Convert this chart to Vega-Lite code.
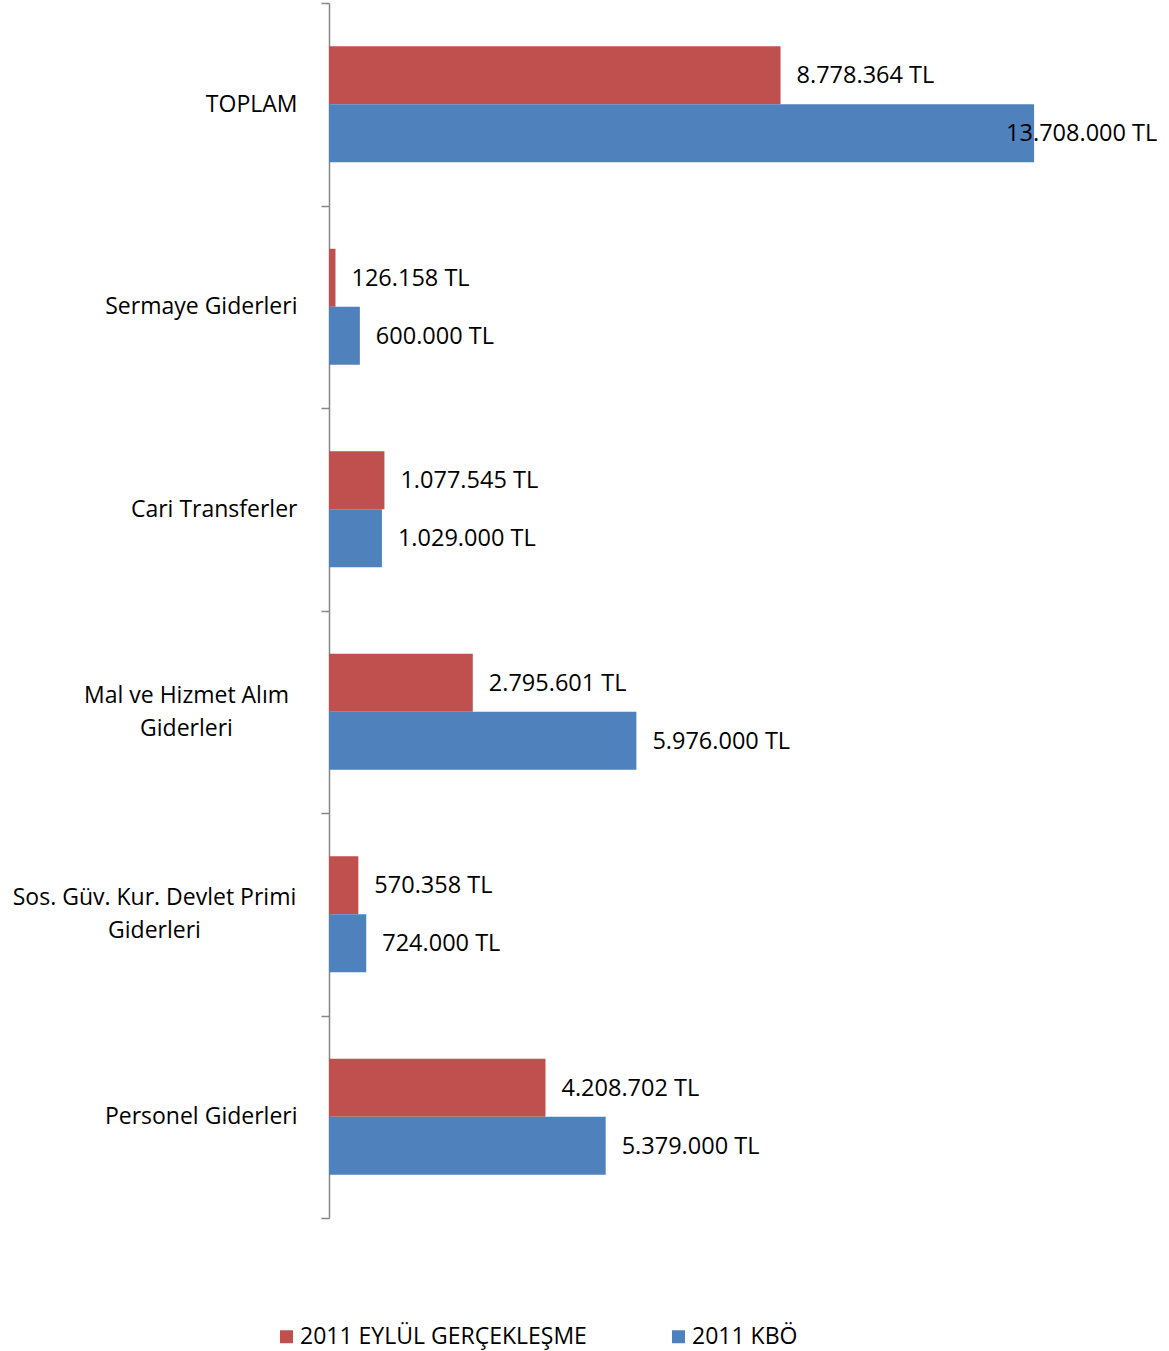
{
  "$schema": "https://vega.github.io/schema/vega-lite/v6.json",
  "width": 823,
  "height": 1215,
  "autosize": {"type": "none"},
  "padding": {"left": 329, "top": 3, "right": 17, "bottom": 133},
  "background": "white",
  "config": {
    "view": {"stroke": null},
    "font": "Open Sans",
    "locale": {
      "number": {"decimal": ",", "thousands": ".", "grouping": [3], "currency": ["", " TL"]}
    }
  },
  "data": {
    "values": [
      {"kategori": "TOPLAM", "seri": "2011 EYLÜL GERÇEKLEŞME", "tutar": 8778364},
      {"kategori": "TOPLAM", "seri": "2011 KBÖ", "tutar": 13708000},
      {"kategori": "Sermaye Giderleri", "seri": "2011 EYLÜL GERÇEKLEŞME", "tutar": 126158},
      {"kategori": "Sermaye Giderleri", "seri": "2011 KBÖ", "tutar": 600000},
      {"kategori": "Cari Transferler", "seri": "2011 EYLÜL GERÇEKLEŞME", "tutar": 1077545},
      {"kategori": "Cari Transferler", "seri": "2011 KBÖ", "tutar": 1029000},
      {"kategori": "Mal ve Hizmet Alım Giderleri", "seri": "2011 EYLÜL GERÇEKLEŞME", "tutar": 2795601},
      {"kategori": "Mal ve Hizmet Alım Giderleri", "seri": "2011 KBÖ", "tutar": 5976000},
      {"kategori": "Sos. Güv. Kur. Devlet Primi Giderleri", "seri": "2011 EYLÜL GERÇEKLEŞME", "tutar": 570358},
      {"kategori": "Sos. Güv. Kur. Devlet Primi Giderleri", "seri": "2011 KBÖ", "tutar": 724000},
      {"kategori": "Personel Giderleri", "seri": "2011 EYLÜL GERÇEKLEŞME", "tutar": 4208702},
      {"kategori": "Personel Giderleri", "seri": "2011 KBÖ", "tutar": 5379000}
    ]
  },
  "encoding": {
    "y": {
      "field": "kategori",
      "type": "nominal",
      "sort": ["TOPLAM", "Sermaye Giderleri", "Cari Transferler", "Mal ve Hizmet Alım Giderleri", "Sos. Güv. Kur. Devlet Primi Giderleri", "Personel Giderleri"],
      "scale": {"paddingInner": 0, "paddingOuter": 0},
      "axis": {
        "title": null,
        "domainColor": "#868686",
        "domainWidth": 1.5,
        "tickColor": "#868686",
        "tickWidth": 1.5,
        "tickSize": 8,
        "tickBand": "extent",
        "labelFont": "Open Sans",
        "labelFontSize": 23,
        "labelColor": "black",
        "labelLimit": 400,
        "labelLineHeight": 33,
        "labelBaseline": "middle",
        "labelExpr": "datum.value === 'Mal ve Hizmet Alım Giderleri' ? ['Mal ve Hizmet Alım', 'Giderleri'] : datum.value === 'Sos. Güv. Kur. Devlet Primi Giderleri' ? ['Sos. Güv. Kur. Devlet Primi', 'Giderleri'] : datum.value",
        "labelAlign": {
          "condition": {"test": "datum.value === 'Mal ve Hizmet Alım Giderleri' || datum.value === 'Sos. Güv. Kur. Devlet Primi Giderleri'", "value": "center"},
          "value": "right"
        },
        "labelOffset": {
          "condition": {"test": "datum.value === 'Mal ve Hizmet Alım Giderleri' || datum.value === 'Sos. Güv. Kur. Devlet Primi Giderleri'", "value": -16.5},
          "value": 0
        },
        "labelPadding": {
          "condition": [
            {"test": "datum.value === 'Mal ve Hizmet Alım Giderleri'", "value": 135},
            {"test": "datum.value === 'Sos. Güv. Kur. Devlet Primi Giderleri'", "value": 167}
          ],
          "value": 24
        }
      }
    },
    "yOffset": {
      "field": "seri",
      "type": "nominal",
      "scale": {"domain": ["2011 EYLÜL GERÇEKLEŞME", "2011 KBÖ"], "paddingInner": 0, "paddingOuter": 0.746}
    },
    "x": {
      "field": "tutar",
      "type": "quantitative",
      "scale": {"domain": [0, 16000000], "nice": false},
      "axis": null
    }
  },
  "layer": [
    {
      "mark": {"type": "bar"},
      "encoding": {
        "color": {
          "field": "seri",
          "type": "nominal",
          "scale": {"domain": ["2011 EYLÜL GERÇEKLEŞME", "2011 KBÖ"], "range": ["#C0504D", "#4F81BD"]},
          "legend": {
            "title": null,
            "orient": "none",
            "direction": "horizontal",
            "legendX": -54,
            "legendY": 1322,
            "symbolType": "square",
            "symbolSize": 169,
            "symbolStrokeWidth": 0,
            "labelFont": "Open Sans",
            "labelFontSize": 23,
            "labelColor": "black",
            "labelLimit": 500,
            "labelOffset": 2,
            "columnPadding": 80
          }
        }
      }
    },
    {
      "transform": [{"filter": "datum.tutar < 10000000"}],
      "mark": {"type": "text", "align": "left", "baseline": "middle", "dx": 16, "dy": 1, "fontSize": 23.5, "font": "Open Sans", "color": "black"},
      "encoding": {
        "text": {"field": "tutar", "type": "quantitative", "format": "$,.0f"}
      }
    },
    {
      "transform": [{"filter": "datum.tutar >= 10000000"}],
      "mark": {"type": "text", "align": "left", "baseline": "middle", "dx": -28, "dy": 1, "fontSize": 23.5, "font": "Open Sans", "color": "black"},
      "encoding": {
        "text": {"field": "tutar", "type": "quantitative", "format": "$,.0f"}
      }
    }
  ]
}
